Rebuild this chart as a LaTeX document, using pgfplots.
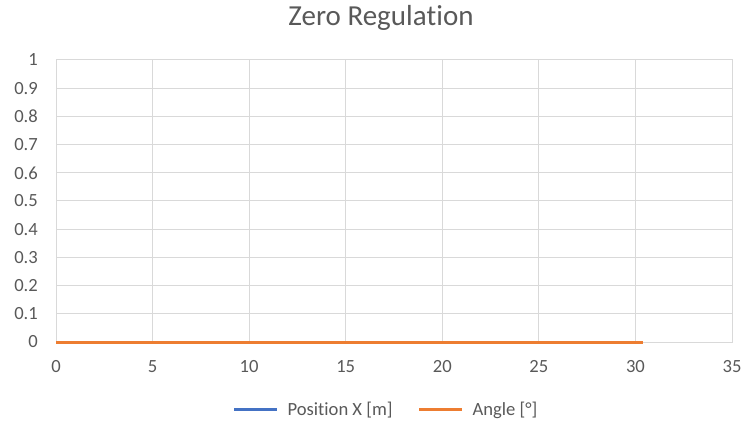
\documentclass[border=0pt]{standalone}
\usepackage{fontspec}
\setmainfont{Carlito}[Ligatures={NoCommon,NoContextual}, Contextuals=NoAlternate]
\usepackage{pgfplots}
\pgfplotsset{compat=1.18}
\definecolor{txtgray}{HTML}{595959}
\definecolor{gridgray}{HTML}{D9D9D9}
\definecolor{xlblue}{HTML}{4472C4}
\definecolor{xlorange}{HTML}{ED7D31}
\begin{document}
\begin{tikzpicture}
\path[use as bounding box] (0,0) rectangle (743pt,423pt);
\node[anchor=base, text=txtgray, font=\fontsize{29}{34}\selectfont, inner sep=0pt] at (381pt,397pt) {Zero Regula\kern0pt tion};
\begin{axis}[
  at={(56pt,81pt)}, anchor=south west,
  scale only axis, width=676pt, height=282pt,
  xmin=0, xmax=35, ymin=0, ymax=1,
  xtick={0,5,...,35},
  ytick={0,0.1,0.2,0.3,0.4,0.5,0.6,0.7,0.8,0.9,1},
  yticklabels={0,0.1,0.2,0.3,0.4,0.5,0.6,0.7,0.8,0.9,1},
  grid=major,
  major grid style={draw=gridgray, line width=1pt},
  axis line style={draw=gridgray, line width=1pt},
  tick style={draw=none},
  /pgf/number format/assume math mode=true,
  ticklabel style={font=\fontsize{18.6}{22}\selectfont, text=txtgray, inner sep=0pt},
  yticklabel style={anchor=east, xshift=-18pt},
  xticklabel style={anchor=north, yshift=-18.7pt},
  legend columns=2,
  legend style={at={(0.4867,-0.241)}, anchor=center, draw=none, fill=none,
    font=\fontsize{18.6}{22}\selectfont, text=txtgray,
    nodes={inner sep=0pt},
    /tikz/every odd column/.append style={column sep=9pt},
    /tikz/every even column/.append style={column sep=25pt}},
  legend image code/.code={\draw[#1] (0pt,0pt) -- (43pt,0pt);},
  clip=false,
]
\addplot[xlblue, line width=3pt] coordinates {(0,0) (5,0) (10,0) (15,0) (20,0) (25,0) (30,0) (30.4,0)};
\addlegendentry{Position X [m]}
\addplot[xlorange, line width=3pt] coordinates {(0,0) (5,0) (10,0) (15,0) (20,0) (25,0) (30,0) (30.4,0)};
\addlegendentry{Angle [°]}
\end{axis}
\end{tikzpicture}
\end{document}
